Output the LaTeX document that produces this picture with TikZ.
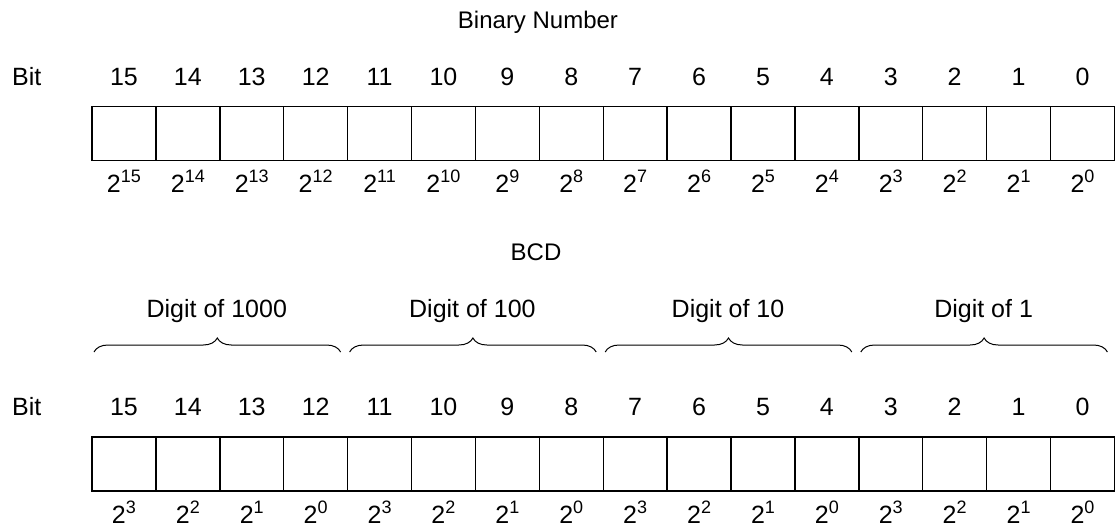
\documentclass[tikz,border=0pt]{standalone}
\usepackage{fontspec}
\setmainfont{Liberation Sans}
\usetikzlibrary{decorations.pathreplacing,positioning}
\newcommand{\pw}[1]{2\raisebox{10pt}{\fontsize{18}{18}\selectfont #1}}

\begin{document}
\begin{tikzpicture}[x=1pt, y=-1pt,
  cell/.style={draw, line width=1.4pt, minimum width=63.9pt, minimum height=54pt,
               inner sep=0pt, outer sep=0pt},
  lbl/.style={anchor=base, inner sep=0pt, font=\fontsize{25}{30}\selectfont},
  ttl/.style={anchor=base, inner sep=0pt, font=\fontsize{24}{28}\selectfont},
  brc/.style={decorate, decoration={brace, amplitude=14pt}, line width=1pt},
]
\useasboundingbox (0,0) rectangle (1116,530);

% ============================================================ BINARY
\node[ttl] (bintitle) at (538,28) {Binary Number};
\node[lbl, anchor=base west] (binbit) at (12,85) {Bit};
\foreach \k in {0,...,15} {
  \pgfmathtruncatemacro{\b}{15-\k}
  \node[cell] (a\b) at ({92+63.9*(\k+0.5)},133.5) {};
  \node[lbl] (an\b) at ({92+63.9*(\k+0.5)},85) {\b};
  \node[lbl] (ap\b) at ({92+63.9*(\k+0.5)},192) {\pw{\b}};
}

% ============================================================ BCD
\node[ttl] (bcdtitle) at (536,260) {BCD};
\node[lbl, anchor=base west] (bcdbit) at (12,415) {Bit};
\foreach \k in {0,...,15} {
  \pgfmathtruncatemacro{\b}{15-\k}
  \pgfmathtruncatemacro{\p}{3-mod(\k,4)}
  \node[cell] (c\b) at ({92+63.9*(\k+0.5)},464) {};
  \node[lbl] (cn\b) at ({92+63.9*(\k+0.5)},415) {\b};
  \node[lbl] (cp\b) at ({92+63.9*(\k+0.5)},523) {\pw{\p}};
}

% one brace per decimal digit
\foreach \j/\d in {0/1000,1/100,2/10,3/1} {
  \coordinate (bl\j) at ({92+255.6*\j+2},352);
  \coordinate (br\j) at ({92+255.6*(\j+1)-7},352);
  \draw[brc] (bl\j) -- (br\j);
  \node[lbl] (dg\j) at ({92+255.6*(\j+0.5)-3},317) {Digit of \d};
}

\end{tikzpicture}
\end{document}
